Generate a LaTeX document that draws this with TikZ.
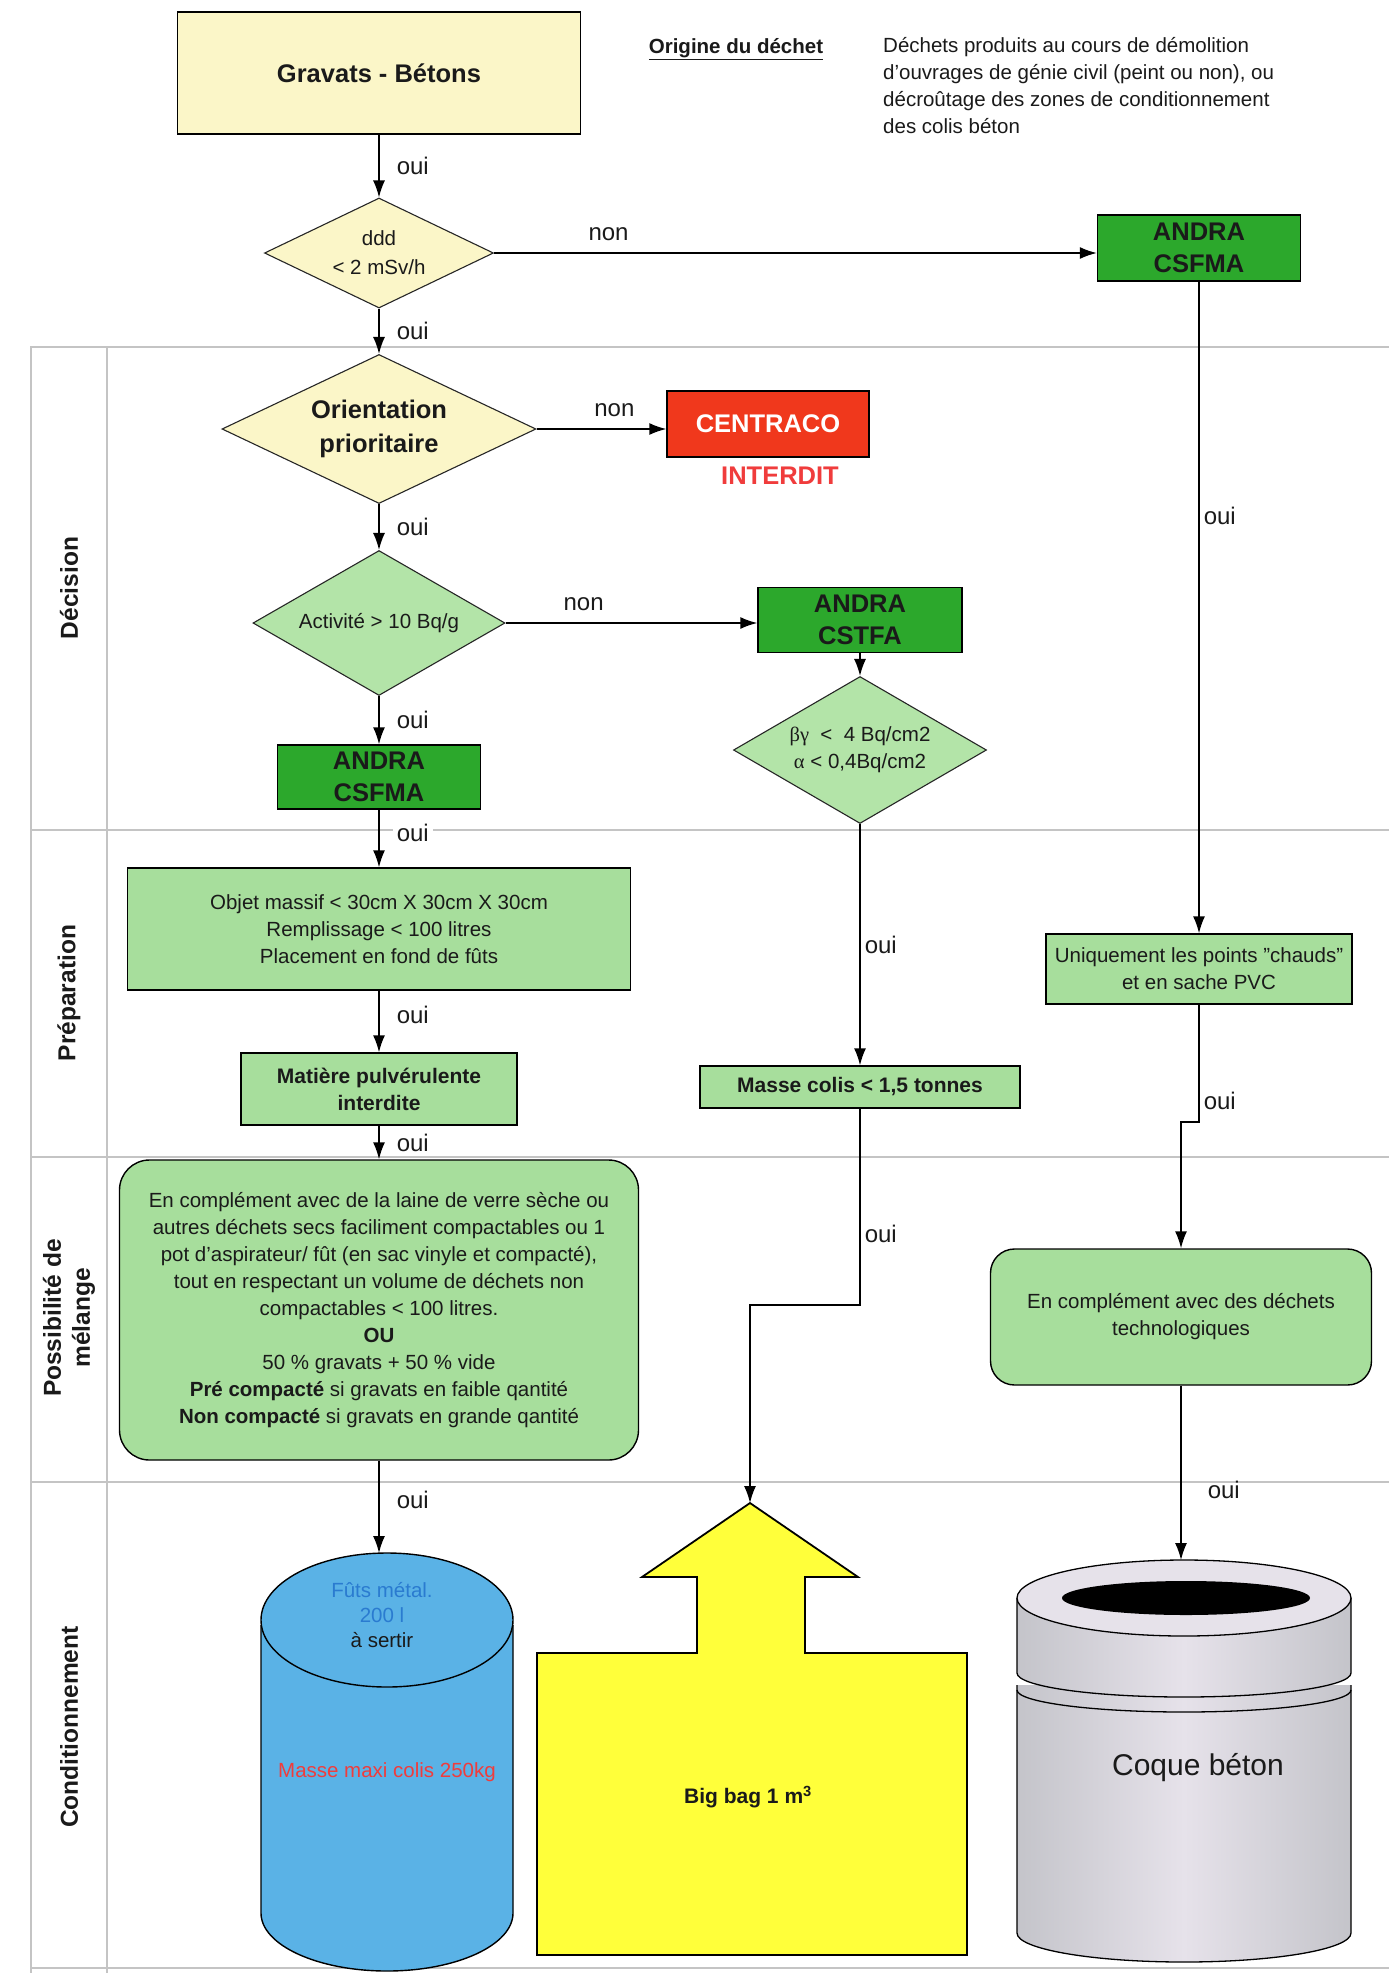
\documentclass[tikz,border=0pt]{standalone}
\usepackage{fontspec}
\setmainfont{Liberation Sans}
\newfontfamily\grec{Liberation Serif}
\usetikzlibrary{shapes.geometric,arrows.meta}

\definecolor{jaunepale}{HTML}{FBF6C8}
\definecolor{vert}{HTML}{A7DE9C}
\definecolor{vertpale}{HTML}{B3E4A8}
\definecolor{vertfonce}{HTML}{2CA82C}
\definecolor{rouge}{HTML}{F0381C}
\definecolor{rougetexte}{HTML}{F03C3C}
\definecolor{bleu}{HTML}{5AB2E6}
\definecolor{bleutexte}{HTML}{2A7BD0}
\definecolor{jaune}{HTML}{FFFF3A}
\definecolor{trait}{HTML}{C4C4C4}
\definecolor{coqueA}{HTML}{C4C4CA}
\definecolor{coqueB}{HTML}{E6E2EA}
\definecolor{encre}{HTML}{1A1A1A}

\newcommand\fsnorm{\fontsize{20.5}{27}\selectfont}
\newcommand\fsgras{\fontsize{25.5}{32}\selectfont\bfseries}
\newcommand\fsmoyen{\fontsize{21}{27}\selectfont\bfseries}
\newcommand\fsvoie{\fontsize{24.5}{29}\selectfont\bfseries}
\newcommand\fsoui{\fontsize{24}{28}\selectfont}

\begin{document}
\begin{tikzpicture}[x=1pt,y=-1pt,every node/.style={inner sep=1pt,text=encre}]
\tikzstyle{fleche}=[draw,line width=1.5pt,-{Latex[length=17pt,width=12pt]}]
\tikzstyle{boite}=[draw,line width=1.4pt,fill=vert,align=center,font=\fsnorm]
\tikzstyle{andra}=[boite,fill=vertfonce,font=\fsgras,minimum width=203pt,minimum height=66pt]
\tikzstyle{losange}=[diamond,draw=black!85,line width=1.1pt,shape aspect=1.9,align=center,inner sep=0pt,font=\fsnorm]
\tikzstyle{oui}=[right,font=\fsoui,inner sep=4pt]
\tikzstyle{ouig}=[oui,xshift=13pt]
\tikzstyle{non}=[above,font=\fsoui,inner sep=12pt]
\tikzstyle{voie}=[rotate=90,font=\fsvoie,align=center]
\tikzstyle{ligne}=[draw=trait,line width=1.5pt]

\fill[white] (0,0) rectangle (1389,1973);
\useasboundingbox (0,0) rectangle (1389,1973);

% couloirs
\draw[ligne] (1389,347) -- (31,347) -- (31,1973);
\draw[ligne] (107,347) -- (107,1973);
\foreach \y in {830,1157,1482,1968}
  \draw[ligne] (31,\y) -- (1389,\y);
\node[voie] (v0) at (69,588) {Décision};
\node[voie] (v1) at (69,993) {Préparation};
\node[voie] (v2) at (69,1318) {Possibilité de\\mélange};
\node[voie] (v3) at (69,1727) {Conditionnement};

% origine
\node[boite,fill=jaunepale,font=\fsgras,minimum width=403pt,minimum height=122pt] (n00) at (379,73) {Gravats - Bétons};
\node[font=\fontsize{20.5}{27}\selectfont\bfseries] (n01) at (736,49) {\underline{Origine du déchet}};
\node[anchor=north west,align=left,inner sep=0pt,font=\fsnorm] (n02) at (883,37)
  {Déchets produits au cours de démolition\\d'ouvrages de génie civil (peint ou non), ou\\décroûtage des zones de conditionnement\\des colis béton};

% colonne de gauche
\node[losange,fill=jaunepale,minimum width=229pt,minimum height=110pt,node distance=180pt,below of=n00] (n10) {ddd\\[2pt]< 2 mSv/h};
\node[andra] (n12) at (1199,248) {ANDRA\\CSFMA};

\node[losange,fill=jaunepale,font=\fsgras,minimum width=314pt,minimum height=149pt,node distance=176pt,below of=n10] (n20) {Orientation\\[2pt]prioritaire};
\node[andra,fill=rouge,font=\fsgras,minimum width=202pt] (n21) at (768,424) {\textcolor{white}{CENTRACO}};
\node[font=\fsgras,text=rougetexte] (n22) at (780,476) {INTERDIT};

\node[losange,fill=vertpale,minimum width=252pt,minimum height=145pt,node distance=194pt,below of=n20] (n30) {Activité > 10 Bq/g};
\node[andra,minimum width=204pt,minimum height=65pt] (n31) at (860,620) {ANDRA\\CSTFA};

\node[andra,minimum height=64pt,node distance=154pt,below of=n30] (n40) {ANDRA\\CSFMA};
\node[losange,fill=vertpale,minimum width=253pt,minimum height=147pt] (n41) at (860,750) {{\grec βγ}\ \ <\ \ 4 Bq/cm2\\{\grec α} < 0,4Bq/cm2};

\node[boite,minimum width=503pt,minimum height=122pt,node distance=152pt,below of=n40] (n50)
  {Objet massif < 30cm X 30cm X 30cm\\Remplissage < 100 litres\\Placement en fond de fûts};
\node[boite,minimum width=306pt,minimum height=70pt] (n52) at (1199,969) {Uniquement les points "chauds"\\et en sache PVC};

\node[boite,font=\fsmoyen,minimum width=276pt,minimum height=72pt,node distance=160pt,below of=n50] (n60) {Matière pulvérulente\\interdite};
\node[boite,font=\fsmoyen,minimum width=320pt,minimum height=42pt] (n61) at (860,1087) {Masse colis < 1,5 tonnes};

\node[boite,rounded corners=30pt,minimum width=519pt,minimum height=300pt,node distance=221pt,below of=n60] (n70)
  {En complément avec de la laine de verre sèche ou\\autres déchets secs faciliment compactables ou 1\\pot d'aspirateur/ fût (en sac vinyle et compacté),\\tout en respectant un volume de déchets non\\compactables < 100 litres.\\\textbf{OU}\\50 \% gravats + 50 \% vide\\\textbf{Pré compacté} si gravats en faible qantité\\\textbf{Non compacté} si gravats en grande qantité};
\node[boite,rounded corners=24pt,minimum width=381pt,minimum height=136pt] (n72) at (1181,1317) {En complément avec des déchets\\technologiques};

% fût métal
\filldraw[fill=bleu,line width=1.4pt] (261,1625) -- (261,1913) arc[start angle=180,end angle=0,x radius=126,y radius=58] -- (513,1625);
\filldraw[fill=bleu,line width=1.4pt] (387,1620) ellipse[x radius=126,y radius=67];
\coordinate (f0) at (379,1553);
\node[font=\fsnorm,align=center] (n80) at (382,1615) {\textcolor{bleutexte}{Fûts métal.}\\[-2pt]\textcolor{bleutexte}{200 l}\\[-2pt]à sertir};
\node[font=\fsnorm,text=rougetexte] (n80b) at (387,1772) {Masse maxi colis 250kg};

% big bag
\filldraw[fill=jaune,line width=1.8pt] (750,1503) coordinate (s0) -- (858,1577) -- (805,1577) -- (805,1653) -- (967,1653)
  -- (967,1955) -- (537,1955) -- (537,1653) -- (697,1653) -- (697,1577) -- (642,1577) -- cycle;
\node[font=\fsmoyen] (n81) at (748,1797) {Big bag 1 m\textsuperscript{3}};

% coque béton
\draw[left color=coqueA,right color=coqueA,middle color=coqueB,line width=1.3pt] (1017,1685) -- (1017,1933)
  arc[start angle=180,end angle=0,x radius=167,y radius=29] -- (1351,1685);
\draw[line width=1.3pt] (1017,1690) arc[start angle=180,end angle=0,x radius=167,y radius=22];
\draw[left color=coqueA,right color=coqueA,middle color=coqueB,line width=1.3pt] (1017,1598) -- (1017,1673)
  arc[start angle=180,end angle=0,x radius=167,y radius=24] -- (1351,1598);
\filldraw[fill=coqueB,line width=1.3pt] (1184,1598) ellipse[x radius=167,y radius=38];
\fill[black] (1186,1598) ellipse[x radius=124,y radius=17];
\coordinate (c0) at (1181,1560);
\node[font=\fontsize{30}{36}\selectfont] (n82) at (1198,1768) {Coque béton};

\coordinate (k1) at (750,1305);
\coordinate (k2) at (1181,1122);

% liaisons
\draw[fleche] (n00) -- node[ouig]{oui} (n10);
\draw[fleche] (n10) -- node[non,pos=0.19]{non} (n10 -| n12.west);
\draw[fleche] (n10) -- node[ouig]{oui} (n20);
\draw[fleche] (n20) -- node[non,pos=0.6]{non} (n20 -| n21.west);
\draw[fleche] (n20) -- node[ouig]{oui} (n30);
\draw[fleche] (n30) -- node[non,pos=0.31]{non} (n30 -| n31.west);
\draw[fleche] (n30) -- node[ouig]{oui} (n40);
\draw[fleche] (n31) -- (n41);
\draw[fleche] (n40) -- node[ouig,pos=0.4,fill=white]{oui} (n50);
\draw[fleche] (n50) -- node[ouig,pos=0.4]{oui} (n60);
\draw[fleche] (n60) -- node[ouig]{oui} (n70);
\draw[fleche] (n70) -- node[ouig,pos=0.42]{oui} (f0);
\draw[fleche] (n41) -- node[oui]{oui} (n61);
\draw[fleche] (n61) |- node[oui,pos=0.32]{oui} (k1) -- (s0);
\draw[fleche] (n12) -- node[oui,pos=0.36]{oui} (n52);
\draw[fleche] (n52) |- node[oui,pos=0.41]{oui} (k2) -- (n72);
\draw[fleche] (n72) -- node[oui,pos=0.6,xshift=22pt]{oui} (c0);
\end{tikzpicture}
\end{document}
